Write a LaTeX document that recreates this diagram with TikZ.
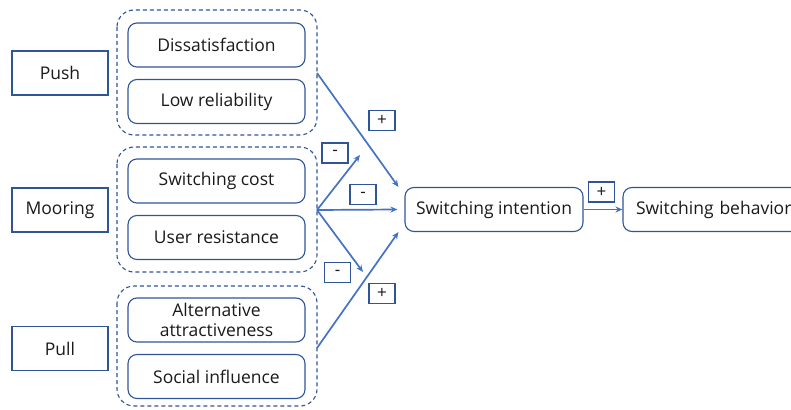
\documentclass[tikz,border=0pt]{standalone}
\usepackage{fontspec}
\setmainfont{Open Sans}
\usetikzlibrary{arrows.meta}
\definecolor{boxblue}{HTML}{2F5597}
\definecolor{arrblue}{HTML}{4472C4}
\definecolor{txt}{HTML}{1A1A1A}
\begin{document}
\begin{tikzpicture}[x=1pt,y=-1pt,
  every node/.style={font=\fontsize{17.5}{19}\selectfont, text=txt},
  catbox/.style={draw=boxblue, line width=1.1pt, minimum width=96pt, minimum height=44pt, inner sep=0pt},
  factor/.style={draw=boxblue, line width=1.1pt, rounded corners=9pt, minimum width=177pt, minimum height=44pt, inner sep=0pt, align=center},
  grp/.style={draw=boxblue, line width=1.1pt, dash pattern=on 4pt off 3pt, rounded corners=17pt},
  sign/.style={draw=boxblue, line width=1.1pt, minimum width=26pt, minimum height=20pt, inner sep=0pt, font=\fontsize{17}{17}\selectfont},
  arr/.style={draw=arrblue, line width=1.7pt, -{Stealth[length=7pt,width=6pt]}}
]
\useasboundingbox (0,0) rectangle (791,409);
\clip (0,0) rectangle (791,409);
% category boxes
\node[catbox] (push) at (60,73) {Push};
\node[catbox] (mooring) at (60,210) {Mooring};
\node[catbox] (pull) at (60,348.5) {Pull};
% groups
\draw[grp] (117,10) rectangle (317,135);
\draw[grp] (117,147) rectangle (317,272);
\draw[grp] (117,286) rectangle (317,406);
\coordinate (g1) at (317,73);
\coordinate (g2) at (317,210);
\coordinate (g3) at (317,348);
% factors
\node[factor] (dis) at (216.5,45) {Dissatisfaction};
\node[factor] (low) at (216.5,101.5) {Low reliability};
\node[factor] (cost) at (216.5,181) {Switching cost};
\node[factor] (res) at (216.5,237.5) {User resistance};
\node[factor, font=\fontsize{17.5}{20}\selectfont] (alt) at (216.5,320) {Alternative\\attractiveness};
\node[factor] (soc) at (216.5,376.5) {Social influence};
% outcomes
\node[factor, minimum width=178pt] (int) at (494,209.5) {Switching intention};
\node[factor, minimum width=178pt, text width=170pt, align=left] (beh) at (712,209.5) {\hspace{9pt}Switching behavior};
% arrow end points
\coordinate (t1) at (360,155);
\coordinate (t2) at (363,272);
% arrows
\draw[arr] (g1) -- ([xshift=-6pt]int.north west);
\draw[arr] (g2) -- (t1);
\draw[arr] (g2) -- ([xshift=-7pt]int.west);
\draw[arr] (g2) -- (t2);
\draw[arr] (g3) -- ([xshift=-6pt]int.south west);
\draw[arr] (int.east) -- (beh.west);
% signs
\node[sign] (s1) at (382,120.5) {+};
\node[sign] (s2) at (335,153) {-};
\node[sign] (s3) at (363,194.5) {-};
\node[sign] (s4) at (337.5,272.5) {-};
\node[sign] (s5) at (382,293.5) {+};
\node[sign] (s6) at (601.5,192) {+};
\end{tikzpicture}
\end{document}
